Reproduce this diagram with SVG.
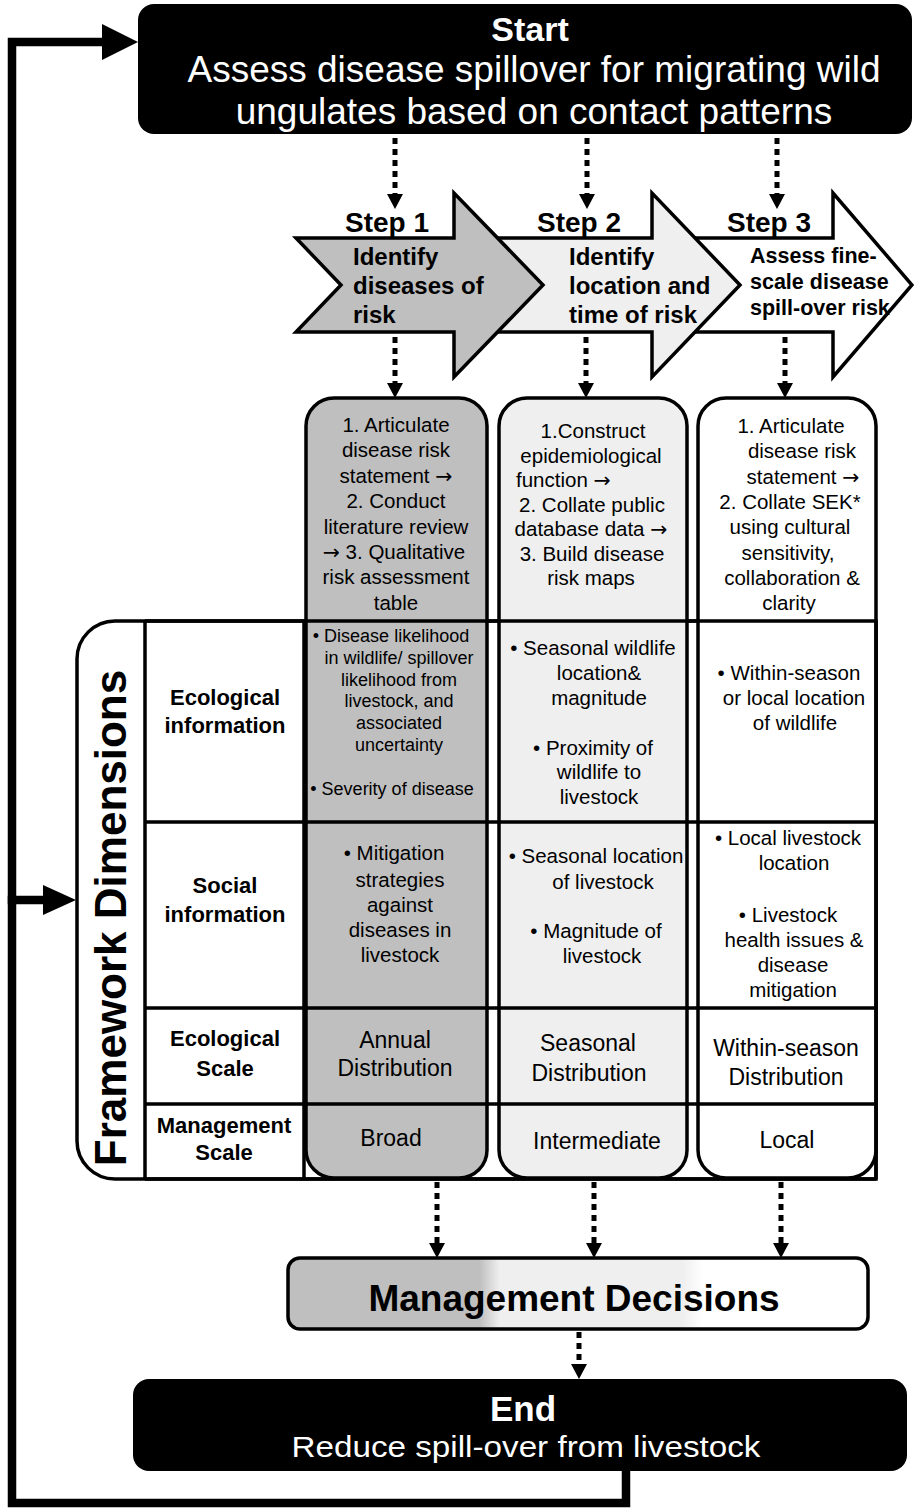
<svg xmlns="http://www.w3.org/2000/svg" width="914" height="1511" viewBox="0 0 914 1511">
<defs>
<style>
text{font-family:"Liberation Sans",Arial,Helvetica,sans-serif;fill:#000}
.w{fill:#fff}
.b{font-weight:bold}
.c{text-anchor:middle}
.s20{font-size:20.5px}
.s18{font-size:18px}
.lbl{font-size:22px;font-weight:bold;text-anchor:middle}
.sc{font-size:23px;text-anchor:middle}
.stp{font-size:28px;font-weight:bold}
.ar{font-size:24px;font-weight:bold}
.ar3{font-size:21.5px;font-weight:bold}
.arr{font-family:"DejaVu Sans",sans-serif}
.box{stroke:#000;stroke-width:3.5;stroke-linejoin:miter}
.grid{stroke:#000;stroke-width:3.5;fill:none}
.dot{stroke:#000;stroke-width:5;stroke-dasharray:6 5;fill:none}
.fb{stroke:#000;stroke-width:8.5;fill:none;stroke-linejoin:miter;stroke-linecap:square}
</style>
<marker id="ah" viewBox="0 0 15 16" refX="0" refY="8" markerWidth="15" markerHeight="16" markerUnits="userSpaceOnUse" orient="auto">
<path d="M0,0 L15,8 L0,16 Z" fill="#000"/>
</marker>
<linearGradient id="mg" x1="0" y1="0" x2="1" y2="0">
<stop offset="0" stop-color="#bfbfbf"/>
<stop offset="0.33" stop-color="#bfbfbf"/>
<stop offset="0.365" stop-color="#efefef"/>
<stop offset="0.68" stop-color="#efefef"/>
<stop offset="0.715" stop-color="#ffffff"/>
<stop offset="1" stop-color="#ffffff"/>
</linearGradient>
</defs>
<rect width="914" height="1511" fill="#fff"/>

<g id="start">
<rect x="138" y="4" width="774" height="130" rx="16" fill="#000"/>
<text class="w b c" x="530" y="41" font-size="34">Start</text>
<text class="w c" x="534" y="82" font-size="37">Assess disease spillover for migrating wild</text>
<text class="w c" x="534" y="124" font-size="37">ungulates based on contact patterns</text>
</g>

<g id="step3">
<polygon class="box" fill="#fff" points="680,238 833,238 833,193 912,285 833,377 833,332 680,332"/>
<text class="stp" x="727" y="232">Step 3</text>
<text class="ar3" x="750" y="263">Assess fine-</text>
<text class="ar3" x="750" y="289">scale disease</text>
<text class="ar3" x="750" y="315">spill-over risk</text>
</g>
<g id="step2">
<polygon class="box" fill="#efefef" points="480,238 652,238 652,193 740,285 652,377 652,332 480,332"/>
<text class="stp" x="537" y="232">Step 2</text>
<text class="ar" x="569" y="265">Identify</text>
<text class="ar" x="569" y="294">location and</text>
<text class="ar" x="569" y="323">time of risk</text>
</g>
<g id="step1">
<polygon class="box" fill="#bfbfbf" points="296,238 454,238 454,193 543,285 454,377 454,332 296,332 341,285"/>
<text class="stp" x="345" y="232">Step 1</text>
<text class="ar" x="353" y="265">Identify</text>
<text class="ar" x="353" y="294">diseases of</text>
<text class="ar" x="353" y="323">risk</text>
</g>

<g id="framework">
<path class="box" fill="#fff" d="M115,621 H876 V1179 H115 A38,38 0 0 1 77,1141 V659 A38,38 0 0 1 115,621 Z"/>
</g>

<g id="col1">
<rect class="box" x="306" y="398" width="181" height="780" rx="28" fill="#bfbfbf"/>
<g class="s20 c">
<text x="396" y="432">1. Articulate</text>
<text x="396" y="457.4">disease risk</text>
<text x="396" y="482.8">statement <tspan class="arr">→</tspan></text>
<text x="396" y="508.2">2. Conduct</text>
<text x="396" y="533.6">literature review</text>
<text x="394" y="559"><tspan class="arr">→</tspan> 3. Qualitative</text>
<text x="396" y="584.4">risk assessment</text>
<text x="396" y="609.8">table</text>
</g>
<g class="s18 c">
<text x="391" y="642">• Disease likelihood</text>
<text x="399" y="664">in wildlife/ spillover</text>
<text x="399" y="686">likelihood  from</text>
<text x="399" y="707">livestock, and</text>
<text x="399" y="729">associated</text>
<text x="399" y="751">uncertainty</text>
<text x="392" y="795">• Severity of disease</text>
</g>
<g class="s20 c">
<text x="394" y="860">• Mitigation</text>
<text x="400" y="887">strategies</text>
<text x="400" y="912">against</text>
<text x="400" y="937">diseases in</text>
<text x="400" y="962">livestock</text>
</g>
<text class="sc" x="395" y="1048">Annual</text>
<text class="sc" x="395" y="1076">Distribution</text>
<text class="sc" x="391" y="1146">Broad</text>
</g>

<g id="col2">
<rect class="box" x="499" y="398" width="188" height="780" rx="28" fill="#efefef"/>
<g class="s20 c">
<text x="593" y="438">1.Construct</text>
<text x="591" y="462.5">epidemiological</text>
<text x="516" y="487" style="text-anchor:start">function <tspan class="arr">→</tspan></text>
<text x="592" y="511.5">2. Collate public</text>
<text x="591" y="536">database data <tspan class="arr">→</tspan></text>
<text x="592" y="560.5">3. Build disease</text>
<text x="591" y="585">risk maps</text>
<text x="593" y="655">• Seasonal wildlife</text>
<text x="599" y="680">location&amp;</text>
<text x="599" y="705">magnitude</text>
<text x="593" y="755">• Proximity of</text>
<text x="599" y="779">wildlife to</text>
<text x="599" y="804">livestock</text>
<text x="596" y="863">• Seasonal location</text>
<text x="603" y="889">of livestock</text>
<text x="596" y="938">• Magnitude of</text>
<text x="602" y="963">livestock</text>
</g>
<text class="sc" x="588" y="1051">Seasonal</text>
<text class="sc" x="589" y="1081">Distribution</text>
<text class="sc" x="597" y="1149">Intermediate</text>
</g>

<g id="col3">
<rect class="box" x="698" y="398" width="178" height="780" rx="28" fill="#fff"/>
<g class="s20 c">
<text x="791" y="433">1. Articulate</text>
<text x="802" y="458.3">disease risk</text>
<text x="803" y="483.6">statement <tspan class="arr">→</tspan></text>
<text x="790" y="508.9">2. Collate SEK*</text>
<text x="790" y="534.2">using cultural</text>
<text x="788" y="559.5">sensitivity,</text>
<text x="792" y="584.8">collaboration &amp;</text>
<text x="789" y="610.1">clarity</text>
<text x="789" y="680">• Within-season</text>
<text x="794" y="705">or local location</text>
<text x="795" y="730">of wildlife</text>
<text x="788" y="845">• Local  livestock</text>
<text x="794" y="870">location</text>
<text x="788" y="922">• Livestock</text>
<text x="794" y="947">health issues &amp;</text>
<text x="793" y="972">disease</text>
<text x="793" y="997">mitigation</text>
</g>
<text class="sc" x="786" y="1056">Within-season</text>
<text class="sc" x="786" y="1085">Distribution</text>
<text class="sc" x="787" y="1148">Local</text>
</g>

<g id="grid">
<path class="grid" d="M145,621 H876 M145,822 H876 M145,1008 H876 M145,1104 H876 M145,1179 H876 M145,621 V1179 M304,621 V1179 M876,621 V1179"/>
<text class="b" font-size="44" text-anchor="middle" transform="translate(126,918) rotate(-90)">Framework Dimensions</text>
<text class="lbl" x="225" y="705">Ecological</text>
<text class="lbl" x="225" y="733">information</text>
<text class="lbl" x="225" y="893">Social</text>
<text class="lbl" x="225" y="922">information</text>
<text class="lbl" x="225" y="1046">Ecological</text>
<text class="lbl" x="225" y="1076">Scale</text>
<text class="lbl" x="224" y="1133">Management</text>
<text class="lbl" x="224" y="1160">Scale</text>
</g>

<g id="decisions">
<rect x="288" y="1258" width="580" height="71" rx="12" fill="url(#mg)" stroke="#000" stroke-width="3.5"/>
<text class="b c" x="574" y="1311" font-size="37">Management Decisions</text>
</g>

<g id="end">
<rect x="133" y="1379" width="774" height="92" rx="16" fill="#000"/>
<text class="w b c" x="523" y="1421" font-size="35">End</text>
<text class="w c" x="526" y="1457" font-size="30" textLength="469" lengthAdjust="spacingAndGlyphs">Reduce spill-over from livestock</text>
</g>

<g id="connectors">
<line class="dot" x1="395" y1="138" x2="395" y2="194" marker-end="url(#ah)"/>
<line class="dot" x1="587" y1="138" x2="587" y2="194" marker-end="url(#ah)"/>
<line class="dot" x1="777" y1="138" x2="777" y2="194" marker-end="url(#ah)"/>
<line class="dot" x1="395" y1="337" x2="395" y2="383" marker-end="url(#ah)"/>
<line class="dot" x1="586" y1="337" x2="586" y2="383" marker-end="url(#ah)"/>
<line class="dot" x1="785" y1="337" x2="785" y2="383" marker-end="url(#ah)"/>
<line class="dot" x1="437" y1="1182" x2="437" y2="1243" marker-end="url(#ah)"/>
<line class="dot" x1="594" y1="1182" x2="594" y2="1243" marker-end="url(#ah)"/>
<line class="dot" x1="781" y1="1182" x2="781" y2="1243" marker-end="url(#ah)"/>
<line class="dot" x1="579" y1="1332" x2="579" y2="1364" marker-end="url(#ah)"/>
<path class="fb" d="M626,1471 V1503 H12 V42 H104"/>
<polygon points="102,24 138,42 102,60" fill="#000"/>
<path class="fb" d="M12,900 H46"/>
<polygon points="43,885 76,900 43,915" fill="#000"/>
</g>
</svg>
